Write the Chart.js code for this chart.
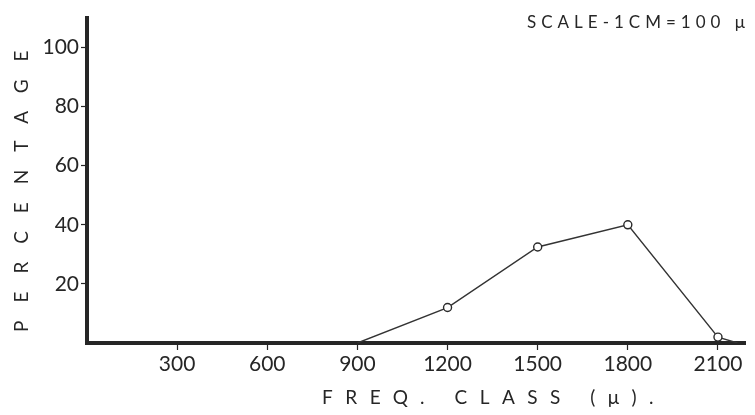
<!DOCTYPE html>
<html>
<head>
<meta charset="utf-8">
<script src="https://cdn.jsdelivr.net/npm/chart.js@4/dist/chart.umd.min.js"></script>
<style>
  body { margin: 0; background: #fff; }
  #wrap { width: 755px; height: 415px; }
</style>
</head>
<body>
<div id="wrap"><canvas id="freq"></canvas></div>
<script>
// frequency classes (microns) and percentages
const freqClass = [900, 1200, 1500, 1800, 2100, 2165]
const percentage = [0, 12, 32.5, 40, 2, 0]
const markerSize = [0, 4, 4, 4, 4, 0]

const xTicks = [300, 600, 900, 1200, 1500, 1800, 2100]
const yTicks = [20, 40, 60, 80, 100]

const xTitle = 'FREQ. CLASS (μ).'
const yTitle = 'PERCENTAGE'
const scaleNote = 'SCALE-1CM=100 μ'

const ink = '#262626'
const font = 'Lato, "DejaVu Sans", sans-serif'

// hand-lettered labels are widely spaced, so draw them with letterSpacing
const lettering = {
    id: 'lettering',
    afterDraw(chart) {
        const ctx = chart.ctx
        ctx.save()
        ctx.fillStyle = ink
        ctx.textBaseline = 'middle'
        ctx.textAlign = 'left'

        ctx.font = '17px ' + font
        ctx.letterSpacing = '5px'
        ctx.fillText(scaleNote, 527, 23)

        ctx.font = '19px ' + font
        ctx.letterSpacing = '12.5px'
        ctx.fillText(xTitle, 322, 398)

        ctx.translate(22, 332)
        ctx.rotate(-Math.PI / 2)
        ctx.font = '19px ' + font
        ctx.letterSpacing = '18px'
        ctx.fillText(yTitle, 0, 0)
        ctx.restore()
    }
}

const canvas = document.getElementById('freq')

new Chart(canvas, {
    type: 'line',
    data: {
        datasets: [
            {
                label: 'percentage',
                data: freqClass.map((f, i) => ({ x: f, y: percentage[i] })),
                borderColor: '#333',
                borderWidth: 1.4,
                pointRadius: markerSize,
                pointBackgroundColor: '#fff',
                pointBorderColor: '#2a2a2a',
                pointBorderWidth: 1.4,
                tension: 0
            }
        ]
    },
    options: {
        responsive: true,
        maintainAspectRatio: false,
        animation: false,
        layout: {
            padding: { top: 18, right: 10, left: 0, bottom: 0 }
        },
        plugins: {
            legend: { display: false },
            tooltip: { enabled: false }
        },
        scales: {
            x: {
                type: 'linear',
                min: 0,
                max: 2190,
                afterBuildTicks: scale => { scale.ticks = xTicks.map(v => ({ value: v })) },
                afterFit: scale => { scale.height = 72 },
                border: { color: ink, width: 4 },
                grid: { drawOnChartArea: false, tickLength: 7, color: ink, tickWidth: 1.2 },
                ticks: {
                    color: ink,
                    font: { family: font, size: 21 },
                    padding: 2,
                    maxRotation: 0,
                    autoSkip: false,
                    callback: v => String(v)
                }
            },
            y: {
                min: 0,
                max: 110,
                afterBuildTicks: scale => { scale.ticks = yTicks.map(v => ({ value: v })) },
                afterFit: scale => { scale.width = 87 },
                border: { color: ink, width: 4 },
                grid: { drawOnChartArea: false, tickLength: 6, color: ink, tickWidth: 1.2 },
                ticks: {
                    color: ink,
                    font: { family: font, size: 21 },
                    padding: 2
                }
            }
        }
    },
    plugins: [lettering]
})
</script>
</body>
</html>
